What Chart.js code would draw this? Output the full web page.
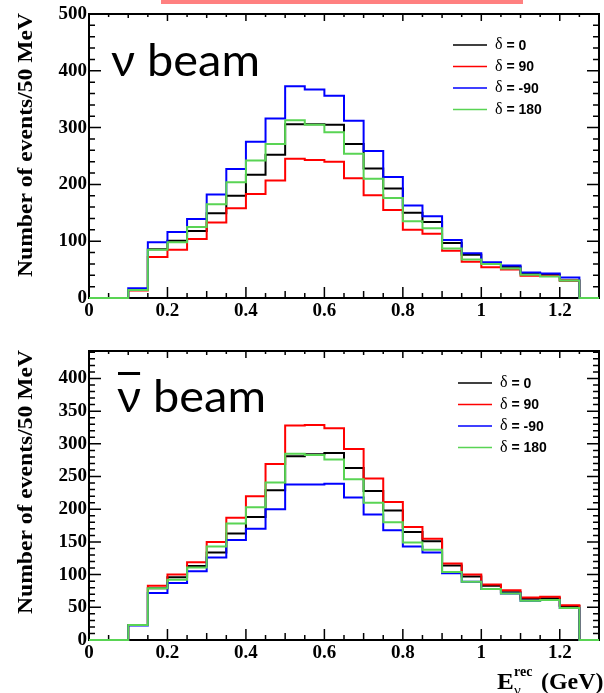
<!DOCTYPE html>
<html>
<head>
<meta charset="utf-8">
<script src="https://cdn.jsdelivr.net/npm/chart.js@4.4.0/dist/chart.umd.min.js"></script>
<style>
  body { margin: 0; background: #fff; width: 604px; height: 693px; overflow: hidden; position: relative; }
  #bar { position: absolute; left: 161px; top: 0; width: 362px; height: 4px; background: #ff8080; }
  canvas { position: absolute; left: 0; }
  #nu { top: 0; }
  #nubar { top: 330px; }
</style>
</head>
<body>
<div id="bar"></div>
<canvas id="nu" width="604" height="330"></canvas>
<canvas id="nubar" width="604" height="363"></canvas>
<script>
// bin low edges (GeV), last entry closes the final bin
const binEdges = [0, 0.05, 0.1, 0.15, 0.2, 0.25, 0.3, 0.35, 0.4, 0.45, 0.5, 0.55, 0.6, 0.65,
                  0.7, 0.75, 0.8, 0.85, 0.9, 0.95, 1.0, 1.05, 1.1, 1.15, 1.2, 1.25, 1.3];
const deltaLabels = ['δ = 0', 'δ = 90', 'δ = -90', 'δ = 180'];
const seriesColors = ['#000000', '#ff0000', '#0000ff', '#59d454'];

// nu beam, events per 50 MeV bin
const nuDelta0   = [0, 0, 14, 86, 101, 118, 149, 180, 217, 252, 306, 306, 305, 271, 228, 193, 150, 134, 97, 76, 61, 55, 43, 41, 31, 0];
const nuDelta90  = [0, 0, 13, 72, 85, 104, 133, 158, 183, 207, 245, 243, 240, 211, 181, 155, 120, 113, 83, 64, 54, 50, 39, 39, 31, 0];
const nuDeltaM90 = [0, 0, 17, 98, 116, 139, 182, 227, 275, 316, 373, 367, 356, 312, 259, 213, 163, 144, 102, 79, 63, 57, 45, 43, 36, 0];
const nuDelta180 = [0, 0, 14, 85, 98, 125, 165, 204, 242, 271, 313, 305, 292, 254, 210, 176, 135, 123, 87, 68, 60, 52, 41, 38, 31, 0];

// anti-nu beam
const barDelta0   = [0, 0, 23, 79, 96, 113, 134, 163, 188, 229, 281, 284, 286, 263, 228, 198, 165, 151, 114, 97, 83, 73, 63, 64, 52, 0];
const barDelta90  = [0, 0, 23, 83, 100, 119, 150, 187, 220, 269, 328, 329, 324, 292, 247, 211, 173, 155, 117, 100, 85, 76, 65, 66, 53, 0];
const barDeltaM90 = [0, 0, 22, 72, 87, 105, 126, 153, 170, 200, 238, 238, 239, 218, 192, 168, 143, 134, 102, 89, 78, 71, 60, 61, 49, 0];
const barDelta180 = [0, 0, 23, 79, 92, 111, 143, 178, 203, 241, 285, 283, 276, 246, 210, 180, 149, 138, 104, 89, 78, 71, 60, 61, 49, 0];

const xTicks = [0, 0.2, 0.4, 0.6, 0.8, 1.0, 1.2];
const yTicksNu = [0, 100, 200, 300, 400, 500];
const yTicksBar = [0, 50, 100, 150, 200, 250, 300, 350, 400];

const serif = "'Liberation Serif', 'DejaVu Serif', serif";
const sans = "'Liberation Sans', Arial, sans-serif";

function histPoints(vals) {
    return binEdges.map((e, i) => ({ x: e, y: vals[Math.min(i, vals.length - 1)] }));
}

function stretchText(ctx, text, x, y, sx) {
    ctx.save();
    ctx.translate(x, y);
    ctx.scale(sx, 1);
    ctx.fillText(text, 0, 0);
    ctx.restore();
}

function rootPlugin(p) {
    return {
        id: 'rootStyle',
        beforeDatasetsDraw(chart) {
            const ctx = chart.ctx;
            const { left, right, top, bottom } = chart.chartArea;
            const xs = chart.scales.x, ys = chart.scales.y;
            ctx.save();
            ctx.strokeStyle = '#000';
            ctx.lineWidth = 1.5;
            ctx.beginPath();
            // x ticks, inside, bottom and top
            for (let k = 0; k <= 26; k++) {
                const px = xs.getPixelForValue(k * 0.05);
                const len = k % 4 === 0 ? 11 : (k % 2 === 0 ? 7 : 5);
                ctx.moveTo(px, bottom); ctx.lineTo(px, bottom - len);
                ctx.moveTo(px, top); ctx.lineTo(px, top + Math.round(len * 0.6));
            }
            // y ticks, inside, left and right
            for (let v = 0; v <= p.yMax; v += p.yMinor) {
                const py = ys.getPixelForValue(v);
                const len = v % p.yMajor === 0 ? 12 : 6;
                ctx.moveTo(left, py); ctx.lineTo(left + len, py);
                ctx.moveTo(right, py); ctx.lineTo(right - len, py);
            }
            ctx.stroke();
            ctx.lineWidth = 2;
            ctx.strokeRect(left, top, right - left, bottom - top);
            ctx.restore();
        },
        afterDraw(chart) {
            const ctx = chart.ctx;
            ctx.save();
            ctx.fillStyle = '#000';

            // y axis title
            ctx.save();
            ctx.translate(27, p.titleCenterY);
            ctx.rotate(-Math.PI / 2);
            ctx.font = 'bold 21px ' + serif;
            ctx.textAlign = 'center';
            ctx.textBaseline = 'middle';
            const tw = ctx.measureText('Number of events/50 MeV').width;
            ctx.scale(264 / tw, 1);
            ctx.fillText('Number of events/50 MeV', 0, 0);
            ctx.restore();

            // beam label
            ctx.font = '44px Lato, sans-serif';
            ctx.textAlign = 'left';
            ctx.textBaseline = 'alphabetic';
            const bw = ctx.measureText('ν beam').width;
            const sx = 149 / bw;
            stretchText(ctx, 'ν beam', p.beamX, p.beamY, sx);
            if (p.overline) {
                const nw = ctx.measureText('ν').width * sx;
                ctx.fillRect(p.beamX + 1, p.beamY - 40, nw - 2, 3);
            }

            // legend
            chart.data.datasets.forEach((ds, i) => {
                const y = p.legendY + i * 21.5;
                ctx.strokeStyle = ds.borderColor;
                ctx.lineWidth = 1.5;
                ctx.beginPath();
                ctx.moveTo(p.legendX, y); ctx.lineTo(p.legendX + 34, y);
                ctx.stroke();
                ctx.textBaseline = 'middle';
                ctx.font = '16px ' + serif;
                ctx.fillText('δ', p.legendX + 42, y);
                const dw = ctx.measureText('δ').width;
                ctx.font = 'bold 14px ' + sans;
                ctx.fillText(ds.label.replace('δ', ''), p.legendX + 42 + dw, y + 1);
            });

            // x axis title
            if (p.xTitle) {
                ctx.textBaseline = 'alphabetic';
                ctx.font = 'bold 24px ' + serif;
                stretchText(ctx, 'E', 497, 359, 1.05);
                ctx.font = 'bold 14px ' + serif;
                ctx.fillText('rec', 514, 346);
                ctx.font = '15px ' + serif;
                ctx.fillText('ν', 514, 365);
                ctx.font = 'bold 23px ' + serif;
                stretchText(ctx, '(GeV)', 541, 359, 1.04);
            }
            ctx.restore();
        }
    };
}

function makeChart(canvasId, series, p) {
    const datasets = series.map((vals, i) => ({
        label: deltaLabels[i],
        data: histPoints(vals),
        borderColor: seriesColors[i],
        backgroundColor: seriesColors[i],
        borderWidth: 2,
        pointRadius: 0,
        stepped: 'before',
        fill: false,
        clip: 3,
        order: 3 - i
    }));
    return new Chart(document.getElementById(canvasId).getContext('2d'), {
        type: 'line',
        data: { datasets },
        plugins: [rootPlugin(p)],
        options: {
            responsive: false,
            animation: false,
            events: [],
            layout: { padding: { top: p.padTop, right: 5, left: 0, bottom: 0 } },
            plugins: { legend: { display: false }, tooltip: { enabled: false } },
            scales: {
                x: {
                    type: 'linear',
                    min: 0,
                    max: 1.3,
                    afterBuildTicks: s => { s.ticks = xTicks.map(v => ({ value: v })); },
                    afterFit: s => { s.height = p.xAxisH; },
                    grid: { display: false, drawTicks: false },
                    border: { display: false },
                    ticks: {
                        padding: 2,
                        color: '#000',
                        maxRotation: 0,
                        font: { family: serif, size: 19, weight: 'bold' },
                        callback: v => String(+v.toFixed(1))
                    }
                },
                y: {
                    min: 0,
                    max: p.yMax,
                    afterBuildTicks: s => { s.ticks = p.yTicks.map(v => ({ value: v })); },
                    afterFit: s => { s.width = 89; },
                    grid: { display: false, drawTicks: false },
                    border: { display: false },
                    ticks: {
                        padding: 2,
                        color: '#000',
                        font: { family: serif, size: 19, weight: 'bold' }
                    }
                }
            }
        }
    });
}

makeChart('nu', [nuDelta0, nuDelta90, nuDeltaM90, nuDelta180], {
    yMax: 500, yMajor: 100, yMinor: 20, yTicks: yTicksNu,
    padTop: 14, xAxisH: 32, titleCenterY: 145,
    beamX: 111, beamY: 76, overline: false,
    legendX: 453, legendY: 45, xTitle: false
});

makeChart('nubar', [barDelta0, barDelta90, barDeltaM90, barDelta180], {
    yMax: 442, yMajor: 50, yMinor: 10, yTicks: yTicksBar,
    padTop: 21, xAxisH: 53, titleCenterY: 152,
    beamX: 117, beamY: 82, overline: true,
    legendX: 458, legendY: 53, xTitle: true
});
</script>
</body>
</html>
